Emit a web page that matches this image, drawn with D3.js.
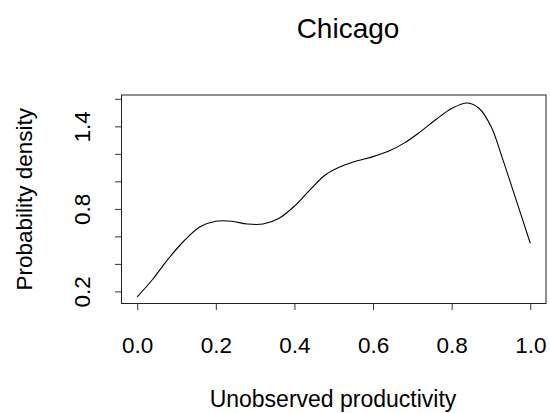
<!DOCTYPE html>
<html>
<head>
<meta charset="utf-8">
<script src="https://cdn.jsdelivr.net/npm/d3@7"></script>
<style>
  html, body { margin: 0; padding: 0; background: #fff; }
  svg { display: block; font-family: "Liberation Sans", Arial, sans-serif; }
</style>
</head>
<body>
<svg id="chart" width="550" height="413"></svg>
<script>
// Kernel density estimate of unobserved productivity, Chicago
const productivity = [0.00, 0.04, 0.08, 0.12, 0.16, 0.20, 0.24, 0.28, 0.32, 0.36,
                      0.40, 0.44, 0.48, 0.52, 0.56, 0.60, 0.64, 0.68, 0.72, 0.76,
                      0.80, 0.84, 0.87, 0.90, 0.93, 0.96, 1.00];
const density = [0.16, 0.29, 0.44, 0.57, 0.67, 0.71, 0.71, 0.69, 0.69, 0.73,
                 0.82, 0.94, 1.05, 1.11, 1.15, 1.18, 1.22, 1.28, 1.36, 1.45,
                 1.53, 1.57, 1.53, 1.40, 1.16, 0.90, 0.55];

const xTicks = [0.0, 0.2, 0.4, 0.6, 0.8, 1.0];
const yTicks = [0.2, 0.4, 0.6, 0.8, 1.0, 1.2, 1.4, 1.6];
const yLabelled = [0.2, 0.8, 1.4];

const titleText = "Chicago";
const xTitle = "Unobserved productivity";
const yTitle = "Probability density";

const svg = d3.select("#chart");
const box = { left: 121.5, right: 546, top: 95, bottom: 303.5 };

const x = d3.scaleLinear().domain([-0.04, 1.04]).range([box.left, box.right]);
const y = d3.scaleLinear().domain([0.112, 1.628]).range([box.bottom, box.top]);

const tickFont = 22.5;
const ink = "#000";

// plot frame
svg.append("rect")
  .attr("x", box.left).attr("y", box.top)
  .attr("width", box.right - box.left).attr("height", box.bottom - box.top)
  .attr("fill", "none").attr("stroke", "#222").attr("stroke-width", 1);

// bottom axis: ticks only, labels below
const xAxis = d3.axisBottom(x).tickValues(xTicks).tickSize(6.5).tickPadding(22)
  .tickFormat(d3.format(".1f"));
const gx = svg.append("g").attr("transform", `translate(0,${box.bottom})`).call(xAxis);
gx.select(".domain").remove();
gx.selectAll(".tick line").attr("stroke", "#333");
gx.selectAll(".tick text")
  .attr("fill", ink).attr("font-size", tickFont)
  .attr("font-family", "Liberation Sans, Arial, sans-serif")
  .attr("dy", null).attr("y", 49.5);

// left axis: every 0.2 ticked, only some labelled, labels rotated
const yAxis = d3.axisLeft(y).tickValues(yTicks).tickSize(6.5)
  .tickFormat(d => yLabelled.some(v => Math.abs(v - d) < 1e-9) ? d3.format(".1f")(d) : "");
const gy = svg.append("g").attr("transform", `translate(${box.left},0)`).call(yAxis);
gy.select(".domain").remove();
gy.selectAll(".tick line").attr("stroke", "#333");
gy.selectAll(".tick text")
  .attr("fill", ink).attr("font-size", tickFont)
  .attr("font-family", "Liberation Sans, Arial, sans-serif")
  .attr("x", null).attr("dy", null)
  .attr("text-anchor", "middle")
  .attr("transform", `translate(${90 - box.left},0) rotate(-90)`)
  .attr("y", 0);

// density curve
const line = d3.line()
  .x((d, i) => x(productivity[i]))
  .y(d => y(d))
  .curve(d3.curveCatmullRom.alpha(0.5));
svg.append("path")
  .attr("d", line(density))
  .attr("fill", "none").attr("stroke", ink).attr("stroke-width", 1.1);

// titles
svg.append("text")
  .attr("x", 348).attr("y", 38)
  .attr("text-anchor", "middle").attr("font-size", 28).attr("fill", ink)
  .text(titleText);

svg.append("text")
  .attr("x", 333).attr("y", 406.5)
  .attr("text-anchor", "middle").attr("font-size", 23).attr("fill", ink)
  .text(xTitle);

svg.append("text")
  .attr("transform", `translate(32,${(box.top + box.bottom) / 2}) rotate(-90)`)
  .attr("text-anchor", "middle").attr("font-size", tickFont).attr("fill", ink)
  .text(yTitle);
</script>
</body>
</html>
